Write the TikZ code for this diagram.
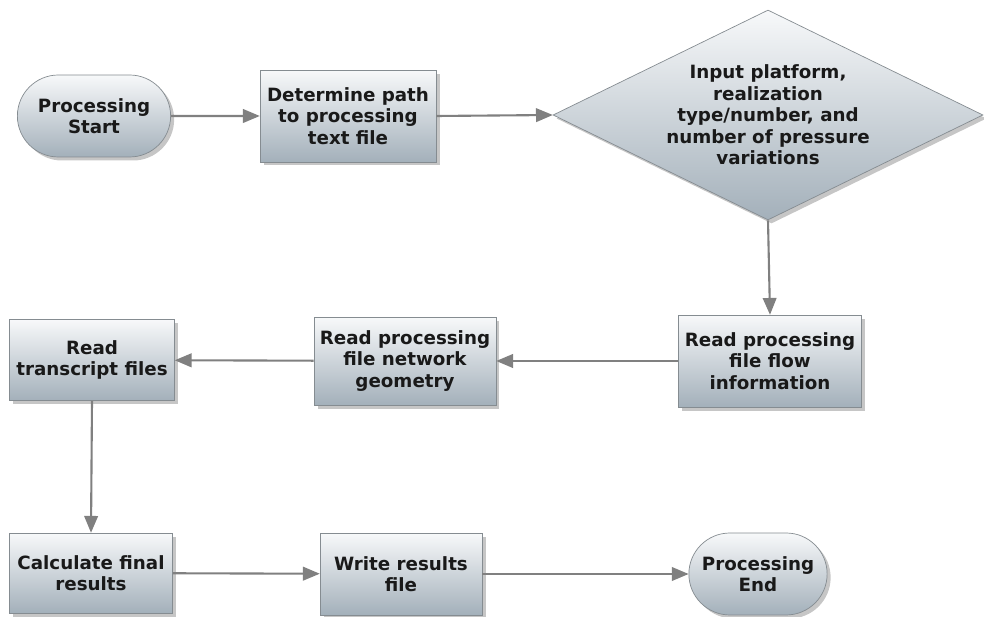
\documentclass[tikz,border=0pt]{standalone}
\usepackage{fontspec}
\setmainfont{DejaVu Sans}
\usetikzlibrary{shapes,shapes.misc,shapes.geometric,arrows,shadows}
\definecolor{boxtop}{rgb}{0.97, 0.975, 0.98}
\definecolor{boxbot}{rgb}{0.64, 0.69, 0.73}
\definecolor{boxline}{rgb}{0.52, 0.55, 0.57}
\definecolor{wire}{rgb}{0.5, 0.5, 0.5}
\definecolor{ink}{rgb}{0.1, 0.1, 0.1}
\tikzstyle{stepbox}=[rectangle,draw=boxline,top color=boxtop,bottom color=boxbot,align=center,text=ink,font=\bfseries\fontsize{10.4}{12.2}\selectfont,drop shadow={shadow xshift=2pt,shadow yshift=-2pt,opacity=0.45}]
\tikzstyle{terminal}=[stepbox,rounded rectangle,rounded rectangle arc length=180]
\tikzstyle{decision}=[stepbox,diamond,aspect=2.05,inner sep=0pt]
\tikzstyle{flow}=[wire,line width=1.2pt,-triangle 45]

\begin{document}
\begin{tikzpicture}[x=0.02cm,y=-0.02cm]
\useasboundingbox (0,0) rectangle (984,617);
\node[terminal, minimum width=3.3cm, minimum height=1.64cm] (start) at (94,116) {Processing\\Start};
\node[stepbox, minimum width=3.52cm, minimum height=1.84cm] (path) at (348,116) {Determine path\\to processing\\text file};
\node[decision, minimum width=8.6cm, minimum height=4.2cm] (input) at (768,115) {Input platform,\\realization\\type/number, and\\number of pressure\\variations};
\node[stepbox, minimum width=3.66cm, minimum height=1.84cm] (flowinfo) at (770,361) {Read processing\\file flow\\information};
\node[stepbox, minimum width=3.52cm, minimum height=1.76cm] (geom) at (405,361) {Read processing\\file network\\geometry};
\node[stepbox, minimum width=3.3cm, minimum height=1.62cm] (transcript) at (92,360) {Read\\transcript files};
\node[stepbox, minimum width=3.26cm, minimum height=1.6cm] (calc) at (91,573) {Calculate final\\results};
\node[stepbox, minimum width=3.24cm, minimum height=1.64cm] (write) at (401,574) {Write results\\file};
\node[terminal, minimum width=3.0cm, minimum height=1.64cm] (end) at (758,574) {Processing\\End};
\draw[flow] (start) -- (path);
\draw[flow] (path.east) -- (input.west);
\draw[flow] (input.south) -- (flowinfo.north);
\draw[flow] (flowinfo) -- (geom);
\draw[flow] (geom) -- (transcript);
\draw[flow] (transcript.south) -- (calc.north);
\draw[flow] (calc) -- (write);
\draw[flow] (write) -- (end);
\end{tikzpicture}
\end{document}
